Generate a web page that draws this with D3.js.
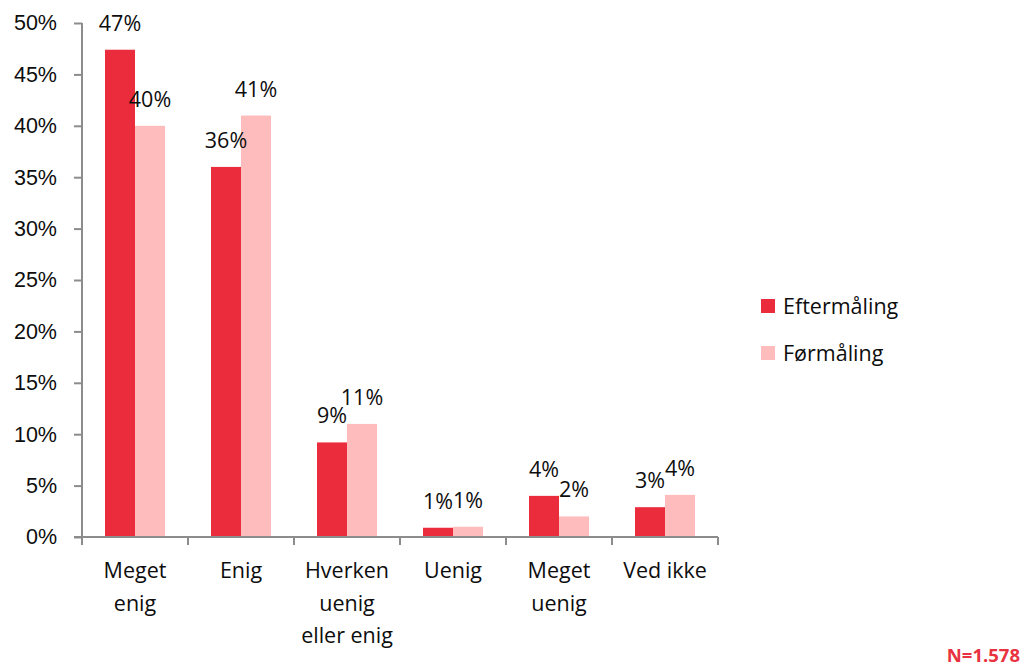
<!DOCTYPE html>
<html>
<head>
<meta charset="utf-8">
<script src="https://cdn.jsdelivr.net/npm/d3@7"></script>
<style>
  html, body { margin: 0; padding: 0; background: #fff; }
  svg { display: block; font-family: "Open Sans", "Noto Sans", sans-serif; }
</style>
</head>
<body>
<svg id="chart" width="1024" height="667"></svg>
<script>
// Survey answers, before and after measurement (share of respondents, %)
const categories = [
  ["Meget", "enig"],
  ["Enig"],
  ["Hverken", "uenig", "eller enig"],
  ["Uenig"],
  ["Meget", "uenig"],
  ["Ved ikke"]
];
const seriesNames = ["Eftermåling", "Førmåling"];
const eftermaaling = [47.4, 36.0, 9.2, 0.9, 4.0, 2.9];
const foermaaling = [40.0, 41.0, 11.0, 1.0, 2.0, 4.1];
const yTicks = [0, 5, 10, 15, 20, 25, 30, 35, 40, 45, 50];
const sampleNote = "N=1.578";

const colors = ["#ea2c3c", "#ffbcbc"];
const axisColor = "#8c8c8c";
const textColor = "#0d0d0d";
const fs = 21.5;

const svg = d3.select("#chart");
const margin = { left: 82, right: 306, top: 23, bottom: 130 };
const W = 1024, H = 667;
const plotW = W - margin.left - margin.right;
const plotH = H - margin.top - margin.bottom;

const g = svg.append("g").attr("transform", `translate(${margin.left},${margin.top})`);

const x = d3.scaleBand().domain(d3.range(categories.length)).range([0, plotW]).paddingInner(0).paddingOuter(0);
const y = d3.scaleLinear().domain([0, 50]).range([plotH, 0]);
const groupW = x.bandwidth() * 0.566;
const xs = d3.scaleBand().domain([0, 1]).range([(x.bandwidth() - groupW) / 2, (x.bandwidth() + groupW) / 2]);

const series = [eftermaaling, foermaaling];

// bars
series.forEach((vals, si) => {
  g.selectAll(null).data(vals).enter().append("rect")
    .attr("x", (d, i) => x(i) + xs(si))
    .attr("y", d => y(d))
    .attr("width", xs.bandwidth())
    .attr("height", d => plotH - y(d))
    .attr("fill", colors[si]);
});

// value labels
series.forEach((vals, si) => {
  g.selectAll(null).data(vals).enter().append("text")
    .attr("x", (d, i) => x(i) + xs(si) + xs.bandwidth() / 2)
    .attr("y", d => y(d) - 19)
    .attr("text-anchor", "middle")
    .attr("font-size", fs)
    .attr("fill", textColor)
    .text(d => Math.round(d) + "%");
});

// y axis
const yAxis = d3.axisLeft(y).tickValues(yTicks).tickFormat(d => d + "%").tickSize(8).tickPadding(17);
const ya = g.append("g").call(yAxis);
ya.select(".domain").attr("stroke", axisColor).attr("stroke-width", 2).attr("d", `M0,${plotH}V0`);
ya.selectAll(".tick line").attr("stroke", axisColor).attr("stroke-width", 2);
ya.selectAll(".tick text").attr("font-size", fs).attr("fill", textColor).attr("font-family", null);

// x axis baseline with boundary ticks
const xa = g.append("g").attr("transform", `translate(0,${plotH})`);
xa.append("line").attr("x1", -8).attr("x2", plotW).attr("y1", 0).attr("y2", 0)
  .attr("stroke", axisColor).attr("stroke-width", 2);
const bounds = d3.range(categories.length + 1).map(i => i < categories.length ? x(i) : plotW);
xa.selectAll(null).data(bounds).enter().append("line")
  .attr("x1", d => d).attr("x2", d => d).attr("y1", 0).attr("y2", 8)
  .attr("stroke", axisColor).attr("stroke-width", 2);

// category labels
categories.forEach((lines, i) => {
  const t = xa.append("text")
    .attr("text-anchor", "middle")
    .attr("font-size", fs)
    .attr("fill", textColor)
    .attr("transform", `translate(${x(i) + x.bandwidth() / 2},0)`);
  lines.forEach((ln, k) => {
    t.append("tspan").attr("x", 0).attr("y", 41 + k * 32.5).text(ln);
  });
});

// legend
const legend = svg.append("g").attr("transform", "translate(761,299)");
seriesNames.forEach((name, i) => {
  const row = legend.append("g").attr("transform", `translate(0,${i * 47})`);
  row.append("rect").attr("width", 14).attr("height", 14).attr("fill", colors[i]);
  row.append("text").attr("x", 22).attr("y", 15).attr("font-size", fs).attr("fill", textColor).text(name);
});

// sample size note
svg.append("text")
  .attr("x", 1020).attr("y", 662)
  .attr("text-anchor", "end")
  .attr("font-size", 18.5)
  .attr("font-weight", "bold")
  .attr("fill", "#e8323f")
  .text(sampleNote);
</script>
</body>
</html>
